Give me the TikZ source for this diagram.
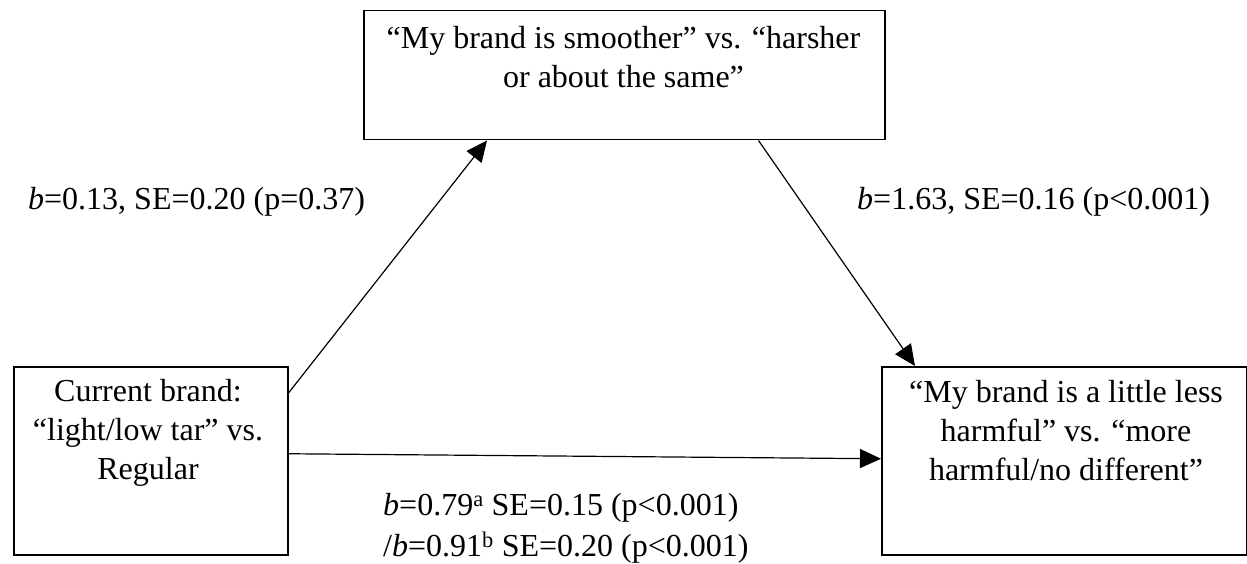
\documentclass[tikz,border=0pt]{standalone}
\usepackage{fontspec}
\setmainfont{Liberation Serif}
\usetikzlibrary{arrows.meta}
\begin{document}
\begin{tikzpicture}[x=1pt,y=-1pt,
  box/.style={draw, line width=1.5pt, inner sep=0pt, anchor=north west},
  txt/.style={font=\fontsize{32}{39}\selectfont, align=center, inner sep=0pt, anchor=north},
  conn/.style={line width=1.2pt, -{Triangle[length=21pt,width=19pt]}},
  lab/.style={font=\fontsize{32}{41}\selectfont, inner sep=0pt},
]
\useasboundingbox (0,0) rectangle (1247,564);
% boxes
\node[box, minimum width=274pt, minimum height=188pt] (L) at (13,366) {};
\node[box, minimum width=365pt, minimum height=188pt] (R) at (881,366) {};
\node[box, minimum width=521pt, minimum height=129pt] (M) at (363,10) {};
% box texts
\node[txt] (Ltext) at (148,373.7) {\strut Current brand:\\\strut “light/low tar” vs.\\\strut Regular};
\node[txt] (Rtext) at (1066,374.7) {\strut “My brand is a little less\\\strut harmful” vs. “more\\\strut harmful/no different”};
\node[txt] (Mtext) at (623.5,20.7) {\strut “My brand is smoother” vs. “harsher\\\strut or about the same”};
% connectors
\draw[conn] ([yshift=-27pt]L.north east) -- ([xshift=124pt]M.south west);
\draw[conn] ([xshift=-127pt]M.south east) -- ([xshift=34pt]R.north west);
\draw[conn] ([yshift=7pt]L.east) -- ([yshift=2pt]R.west);
% labels
\node[lab, anchor=base west] (la) at (28,209) {\textit{b}=0.13, SE=0.20 (p=0.37)};
\node[lab, anchor=base west] (lb) at (857,209) {\textit{b}=1.63, SE=0.16 (p<0.001)};
\node[lab, anchor=north west, align=left] (lc) at (383,486.3) {\strut\textit{b}=0.79\textsuperscript{a} SE=0.15 (p<0.001)\\\strut/\textit{b}=0.91\textsuperscript{b} SE=0.20 (p<0.001)};
\end{tikzpicture}
\end{document}
